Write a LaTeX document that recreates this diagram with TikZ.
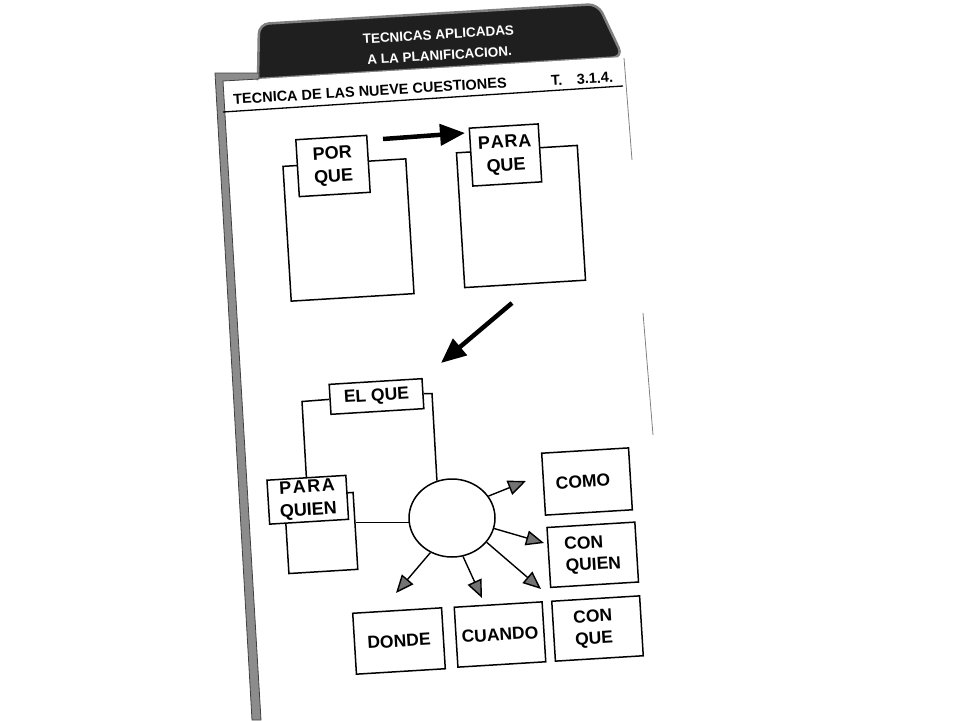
\documentclass[tikz,border=0pt]{standalone}
\usepackage{fontspec}
\setmainfont{Liberation Sans}
\usetikzlibrary{arrows.meta,shapes.geometric,calc}
\begin{document}
\begin{tikzpicture}[x=1pt,y=-1pt,
  box/.style={draw=black, line width=1.5pt, fill=white, rotate=3.5, inner sep=0pt,
    font=\fontsize{17.5}{22}\selectfont\bfseries, align=center},
  topbox/.style={box, font=\fontsize{18}{23}\selectfont\bfseries},
  frameline/.style={draw=black, line width=1.5pt},
  garrow/.style={line width=1.4pt, -{Triangle[length=18pt,width=15pt,fill=black!55]}},
  bigarrow/.style={line width=4.5pt, -{Triangle[length=25pt,width=21pt]}},
  tabtext/.style={text=white, rotate=3.5, inner sep=0pt, align=center, font=\fontsize{13.5}{21}\selectfont\bfseries},
  hdrtext/.style={rotate=3.5, inner sep=1pt, font=\fontsize{14.5}{17}\selectfont\bfseries}]
\useasboundingbox (0,0) rectangle (960,720);
% dark tab
\filldraw[fill=black!88, draw=black!50, line width=2.5pt, rounded corners=10pt]
  (258,79) -- (259,24) -- (598,4) -- (623,57) [sharp corners] -- cycle;
\node[tabtext] (tab) at (439,45) {TECNICAS APLICADAS\\A LA PLANIFICACION.};
% card top white edge over tab bottom
\fill[white] (258,79) -- (623,57) -- (626,62) -- (258,83) -- cycle;
% grey card border
\filldraw[fill=black!45, draw=black!75, line width=0.8pt]
  (215,73) -- (259,73) -- (259,79) -- (223,81) -- (261,720) -- (252,720) -- cycle;
% header
\draw[line width=1.3pt] (223,112) -- (623,86);
\node[hdrtext] (hdr) at (370,91) {TECNICA DE LAS NUEVE CUESTIONES};
\node[hdrtext] (tnum) at (582,79) {T.\quad 3.1.4.};
% faint right edge
\draw[black!50, line width=0.8pt] (624,58) -- (632,160);
\draw[black!50, line width=0.8pt] (643,313) -- (653,435);
% upper boxes
\node[box, minimum width=123pt, minimum height=135pt] (porbig) at (348.5,230) {};
\node[topbox, minimum width=71pt, minimum height=57pt] (porque) at (333,166) {POR\\QUE};
\node[box, minimum width=121pt, minimum height=135pt] (parabig) at (521,216.5) {};
\node[topbox, minimum width=69pt, minimum height=58pt] (paraque) at (505.5,155) {P\kern0.8pt A\kern0.8pt R\kern0.8pt A\\QUE};
\coordinate (a1s) at (383,139);
\coordinate (a1e) at (465,133);
\coordinate (a2s) at (512,303);
\coordinate (a2e) at (441,363);
\draw[bigarrow] (a1s) -- (a1e);
\draw[bigarrow] (a2s) -- (a2e);
% lower part
\node[box, minimum width=69pt, minimum height=77pt] (pqnbig) at (321,533) {};
\node[topbox, minimum width=79pt, minimum height=44pt] (paraquien) at (307.75,499.75) {P\kern1.5pt A\kern1.5pt R\kern1.5pt A\\QUIEN};
\node[box, minimum width=93pt, minimum height=30pt] (elque) at (376.5,396.5) {EL QUE};
\node[draw, ellipse, line width=1.5pt, minimum width=86pt, minimum height=78pt, inner sep=0pt, fill=white] (circ) at (452,518) {};
\coordinate (elTL) at (302,401.5);
\coordinate (elTR) at (432,393.5);
\draw[frameline] (paraquien.north) -- (elTL) -- (elque.west);
\draw[frameline] (elque.east) -- (elTR) -- (circ.112);
\draw[frameline] (circ.186) -- (pqnbig.east |- circ.186);
\node[box, minimum width=87pt, minimum height=62pt] (como) at (587,481.5) {COMO\hspace*{8pt}};
\node[box, minimum width=88pt, minimum height=60pt, align=left] (conquien) at (592.75,554.75) {CON\\QUIEN};
\node[box, minimum width=88pt, minimum height=60pt] (conque) at (597.5,628.5) {CON\hspace*{8pt}\\QUE\hspace*{8pt}};
\node[box, minimum width=88pt, minimum height=60pt] (cuando) at (500,634.5) {CUANDO};
\node[box, minimum width=89pt, minimum height=61pt] (donde) at (399,641) {DONDE};
\coordinate (tcomo) at (526,481);
\coordinate (tconquien) at (544,543);
\coordinate (tconque) at (541,589);
\coordinate (tcuando) at (482,598);
\coordinate (tdonde) at (396,593);
\draw[garrow] (circ.31) -- (tcomo);
\draw[garrow] (circ.-14) -- (tconquien);
\draw[garrow] (circ.-35) -- (tconque);
\draw[garrow] (circ.-74) -- (tcuando);
\draw[garrow] (circ.-122) -- (tdonde);
\end{tikzpicture}
\end{document}
